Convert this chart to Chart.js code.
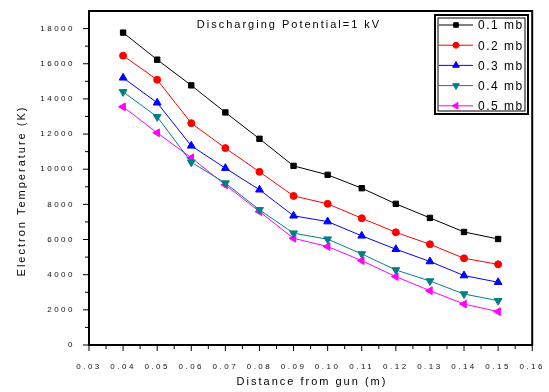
<!DOCTYPE html>
<html>
<head>
<meta charset="utf-8">
<script src="https://cdn.jsdelivr.net/npm/chart.js@4.4.1/dist/chart.umd.min.js"></script>
<style>
  html, body { margin: 0; padding: 0; background: #fff; }
  canvas { display: block; }
</style>
</head>
<body>
<canvas id="chart" width="549" height="392"></canvas>
<script>
const distance = [0.04, 0.05, 0.06, 0.07, 0.08, 0.09, 0.10, 0.11, 0.12, 0.13, 0.14, 0.15];
const seriesNames = ['0.1 mb', '0.2 mb', '0.3 mb', '0.4 mb', '0.5 mb'];
const temp01 = [17770, 16230, 14770, 13230, 11730, 10190, 9680, 8920, 8030, 7230, 6430, 6030];
const temp02 = [16460, 15090, 12620, 11200, 9850, 8480, 8030, 7210, 6410, 5730, 4930, 4590];
const temp03 = [15200, 13780, 11330, 10060, 8830, 7350, 7020, 6210, 5450, 4750, 3950, 3570];
const temp04 = [14400, 12980, 10400, 9210, 7690, 6360, 6020, 5180, 4270, 3640, 2900, 2520];
const temp05 = [13550, 12070, 10650, 9110, 7590, 6070, 5600, 4800, 3890, 3090, 2330, 1900];
const xTicks = [0.03, 0.04, 0.05, 0.06, 0.07, 0.08, 0.09, 0.10, 0.11, 0.12, 0.13, 0.14, 0.15, 0.16];
const yTicks = [0, 2000, 4000, 6000, 8000, 10000, 12000, 14000, 16000, 18000];

const colors = ['#000000', '#ff0000', '#0000ff', '#008080', '#ff00ff'];
const markers = [
  { style: 'rect', rot: 0, r: 3.8 },
  { style: 'circle', rot: 0, r: 3.5 },
  { style: 'triangle', rot: 0, r: 4.5 },
  { style: 'triangle', rot: 180, r: 4.5 },
  { style: 'triangle', rot: -90, r: 4.5 }
];
const allTemps = [temp01, temp02, temp03, temp04, temp05];

const datasets = allTemps.map((vals, i) => ({
  label: seriesNames[i],
  data: distance.map((d, j) => ({ x: d, y: vals[j] })),
  borderColor: colors[i],
  backgroundColor: colors[i],
  borderWidth: 1,
  pointStyle: markers[i].style,
  pointRotation: markers[i].rot,
  pointRadius: markers[i].r,
  pointBorderWidth: 1
}));

// frame, ticks, axis titles, note and legend
const decor = {
  id: 'decor',
  beforeDraw(chart) { chart.ctx.letterSpacing = '2.5px'; },
  afterDraw(chart) {
    const { ctx, chartArea: a, scales: { x, y } } = chart;
    ctx.save();
    ctx.strokeStyle = '#000';
    ctx.lineWidth = 1;
    ctx.beginPath();
    for (let i = 0; i < yTicks.length; i++) {
      const py = y.getPixelForValue(yTicks[i]);
      ctx.moveTo(a.left - 6, py); ctx.lineTo(a.left, py);
      if (i < yTicks.length - 1) {
        const pm = y.getPixelForValue((yTicks[i] + yTicks[i + 1]) / 2);
        ctx.moveTo(a.left - 4, pm); ctx.lineTo(a.left, pm);
      }
    }
    for (let i = 0; i < xTicks.length; i++) {
      const px = x.getPixelForValue(xTicks[i]);
      ctx.moveTo(px, a.bottom); ctx.lineTo(px, a.bottom + 6);
      if (i < xTicks.length - 1) {
        const pm = x.getPixelForValue((xTicks[i] + xTicks[i + 1]) / 2);
        ctx.moveTo(pm, a.bottom); ctx.lineTo(pm, a.bottom + 4);
      }
    }
    ctx.stroke();
    ctx.lineWidth = 2;
    ctx.strokeRect(a.left, a.top, a.right - a.left, a.bottom - a.top);

    ctx.fillStyle = '#000';
    ctx.letterSpacing = '2px';
    ctx.font = '11px Arial';
    ctx.textAlign = 'center';
    ctx.textBaseline = 'middle';
    ctx.fillText('Distance from gun (m)', 312, 382);
    ctx.fillText('Discharging Potential=1 kV', 289, 25);
    ctx.save();
    ctx.translate(22, 191);
    ctx.rotate(-Math.PI / 2);
    ctx.fillText('Electron Temperature (K)', 0, 0);
    ctx.restore();

    // legend box
    const lx = 435, ly = 15, lw = 93, lh = 99;
    ctx.lineWidth = 2;
    ctx.strokeRect(lx, ly, lw, lh);
    ctx.lineWidth = 1;
    ctx.strokeRect(lx + 3, ly + 3, lw - 6, lh - 6);
    ctx.textAlign = 'left';
    ctx.letterSpacing = '1.5px';
    ctx.font = '12px Arial';
    chart.data.datasets.forEach((ds, i) => {
      const cy = ly + 10 + i * 20.2;
      ctx.strokeStyle = ds.borderColor;
      ctx.beginPath();
      ctx.moveTo(lx + 4, cy); ctx.lineTo(lx + 38, cy);
      ctx.stroke();
      ctx.fillStyle = ds.backgroundColor;
      Chart.helpers.drawPoint(ctx, {
        pointStyle: ds.pointStyle, rotation: ds.pointRotation,
        radius: ds.pointRadius * 0.85, borderWidth: 1
      }, lx + 21, cy);
      ctx.fillStyle = '#000';
      ctx.fillText(ds.label, lx + 43, cy + 1);
    });
    ctx.restore();
  }
};

new Chart(document.getElementById('chart'), {
  type: 'line',
  data: { datasets },
  options: {
    responsive: false,
    animation: false,
    devicePixelRatio: 1,
    layout: { padding: { top: 11, right: 13, left: 0, bottom: 0 } },
    plugins: { legend: { display: false }, tooltip: { enabled: false } },
    scales: {
      x: {
        type: 'linear',
        min: 0.03,
        max: 0.16,
        afterBuildTicks: s => { s.ticks = xTicks.map(v => ({ value: v })); },
        afterFit: s => { s.height = 47; },
        grid: { display: false },
        border: { display: false },
        ticks: {
          padding: 9,
          maxRotation: 0,
          autoSkip: false,
          color: '#111',
          font: { family: 'Arial', size: 8 },
          callback: v => v.toFixed(2)
        }
      },
      y: {
        min: 0,
        max: 19000,
        afterBuildTicks: s => { s.ticks = yTicks.map(v => ({ value: v })); },
        afterFit: s => { s.width = 89; },
        grid: { display: false },
        border: { display: false },
        ticks: {
          padding: 6,
          autoSkip: false,
          color: '#111',
          font: { family: 'Arial', size: 8 },
          callback: v => String(v)
        }
      }
    }
  },
  plugins: [decor]
});
</script>
</body>
</html>
